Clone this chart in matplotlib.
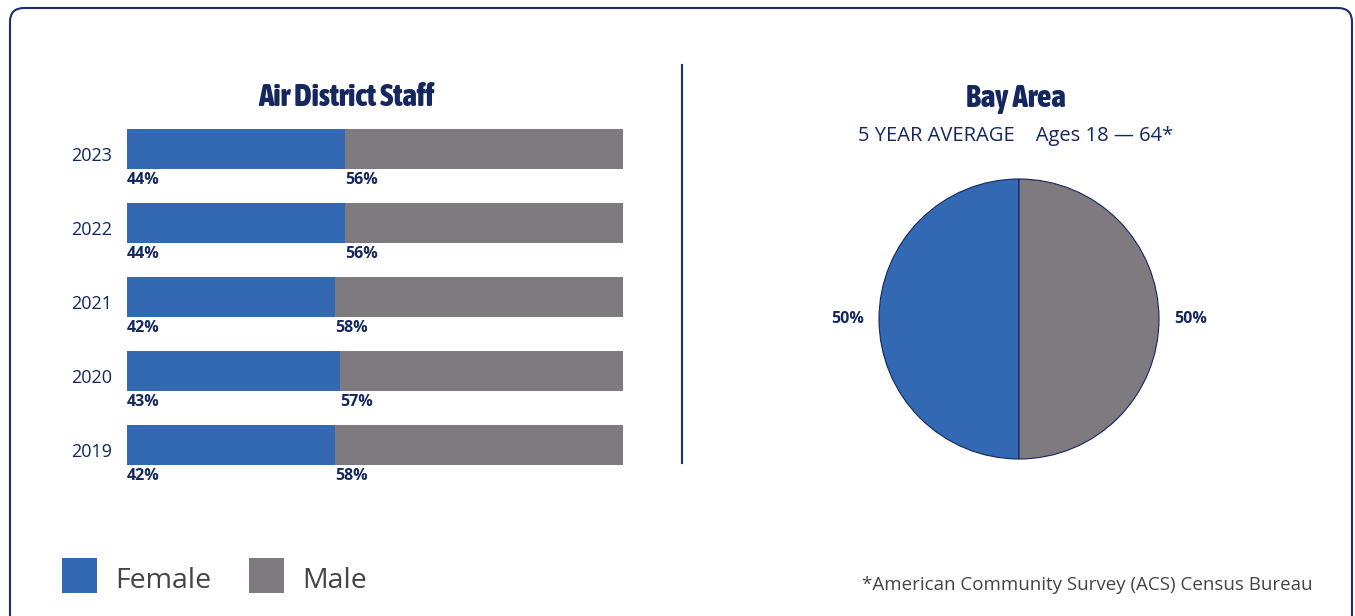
import matplotlib
matplotlib.use("Agg")
import matplotlib.pyplot as plt
from matplotlib import font_manager as fm
from matplotlib.patches import FancyBboxPatch, Rectangle
from matplotlib.transforms import ScaledTranslation

# data
years = ["2019", "2020", "2021", "2022", "2023"]
female = [42, 43, 42, 44, 44]
male = [58, 57, 58, 56, 56]
bay_labels = ["Female", "Male"]
bay_values = [50, 50]

BLUE = "#3369B2"
GRAY = "#7F7A80"
NAVY = "#14275E"
TEXT_GRAY = "#444444"

W, H = 1355, 616
plt.rcParams["font.family"] = ["Open Sans", "DejaVu Sans"]


def condensed_bold():
    # look for a narrow / condensed bold face for the headings
    found = []
    for f in fm.fontManager.ttflist:
        name = (f.name + " " + f.fname).lower()
        narrow = ("narrow" in name or "condensed" in name
                  or f.stretch in ("condensed", "semi-condensed", "extra-condensed"))
        w = f.weight if isinstance(f.weight, int) else 700 if "bold" in str(f.weight) else 400
        if narrow and w >= 700 and f.style == "normal":
            found.append(f)
    found.sort(key=lambda f: ("extra" not in f.fname.lower(), "black" in f.fname.lower(), f.fname))
    if found:
        return fm.FontProperties(fname=found[0].fname), found[0].name
    return fm.FontProperties(family="DejaVu Sans", weight="bold"), "none"


title_fp, title_name = condensed_bold()

fig = plt.figure(figsize=(W / 100, H / 100), dpi=100)


def px_axes(x0, y0, x1, y1):
    # axes from pixel box (top-left origin)
    return fig.add_axes([x0 / W, 1 - y1 / H, (x1 - x0) / W, (y1 - y0) / H])


# background: rounded frame, divider, titles, legend, footnote
bg = fig.add_axes([0, 0, 1, 1], zorder=0)
bg.set_xlim(0, W)
bg.set_ylim(H, 0)
bg.axis("off")
bg.add_patch(FancyBboxPatch((10, 8), 1342, 640, boxstyle="round,pad=0,rounding_size=14",
                            fc="white", ec="#1C2E6B", lw=1.5))
bg.plot([682, 682], [65, 463], color="#1C2E6B", lw=1.5)

bg.text(346, 98, "Air District Staff", ha="center", va="center", fontsize=22.5,
        color=NAVY, fontproperties=title_fp)
bg.text(1016, 98, "Bay Area", ha="center", va="center", fontsize=22.5,
        color=NAVY, fontproperties=title_fp)
bg.text(1016, 136, "5 YEAR AVERAGE    Ages 18 \u2014 64*", ha="center", va="center",
        fontsize=14.5, color=NAVY)

for x, col, name in [(62, BLUE, "Female"), (249, GRAY, "Male")]:
    bg.add_patch(Rectangle((x, 558), 35, 35, fc=col, ec="none"))
    bg.text(x + 53, 581, name, ha="left", va="center", fontsize=20.5, color=TEXT_GRAY)

bg.text(1313, 585, "*American Community Survey (ACS) Census Bureau", ha="right",
        va="center", fontsize=13.5, color=TEXT_GRAY)

# stacked bars
ax = px_axes(127, 112, 623, 482)
ax.set_zorder(1)
ax.patch.set_visible(False)
pos = list(range(len(years)))
bh = 40 / 74
ax.barh(pos, female, height=bh, color=BLUE)
ax.barh(pos, male, left=female, height=bh, color=GRAY)
ax.set_xlim(0, 100)
ax.set_ylim(-0.5, 4.5)
ax.set_yticks(pos)
ax.set_yticklabels(years, fontsize=13, color=NAVY)
ax.tick_params(axis="y", length=0, pad=11)
shift = ScaledTranslation(0, -5 / 100, fig.dpi_scale_trans)
for lab in ax.get_yticklabels():
    lab.set_transform(lab.get_transform() + shift)
ax.set_xticks([])
for s in ax.spines.values():
    s.set_visible(False)
for i, (f, m) in enumerate(zip(female, male)):
    yl = i - bh / 2 - 0.04
    ax.text(0, yl, f"{f}%", ha="left", va="top", fontsize=11.5, fontweight="bold", color=NAVY)
    ax.text(f, yl, f"{m}%", ha="left", va="top", fontsize=11.5, fontweight="bold", color=NAVY)

# pie
pax = px_axes(879, 179, 1159, 459)
pax.set_zorder(1)
pax.pie(bay_values, labels=[f"{v}%" for v in bay_values], colors=[BLUE, GRAY],
        startangle=90, counterclock=True, labeldistance=1.11,
        wedgeprops=dict(edgecolor=NAVY, linewidth=0.8),
        textprops=dict(fontsize=11.5, fontweight="bold", color=NAVY))
pax.set_xlim(-1, 1)
pax.set_ylim(-1, 1)
pax.set_aspect("auto")

fig.savefig("out.png", dpi=100)
